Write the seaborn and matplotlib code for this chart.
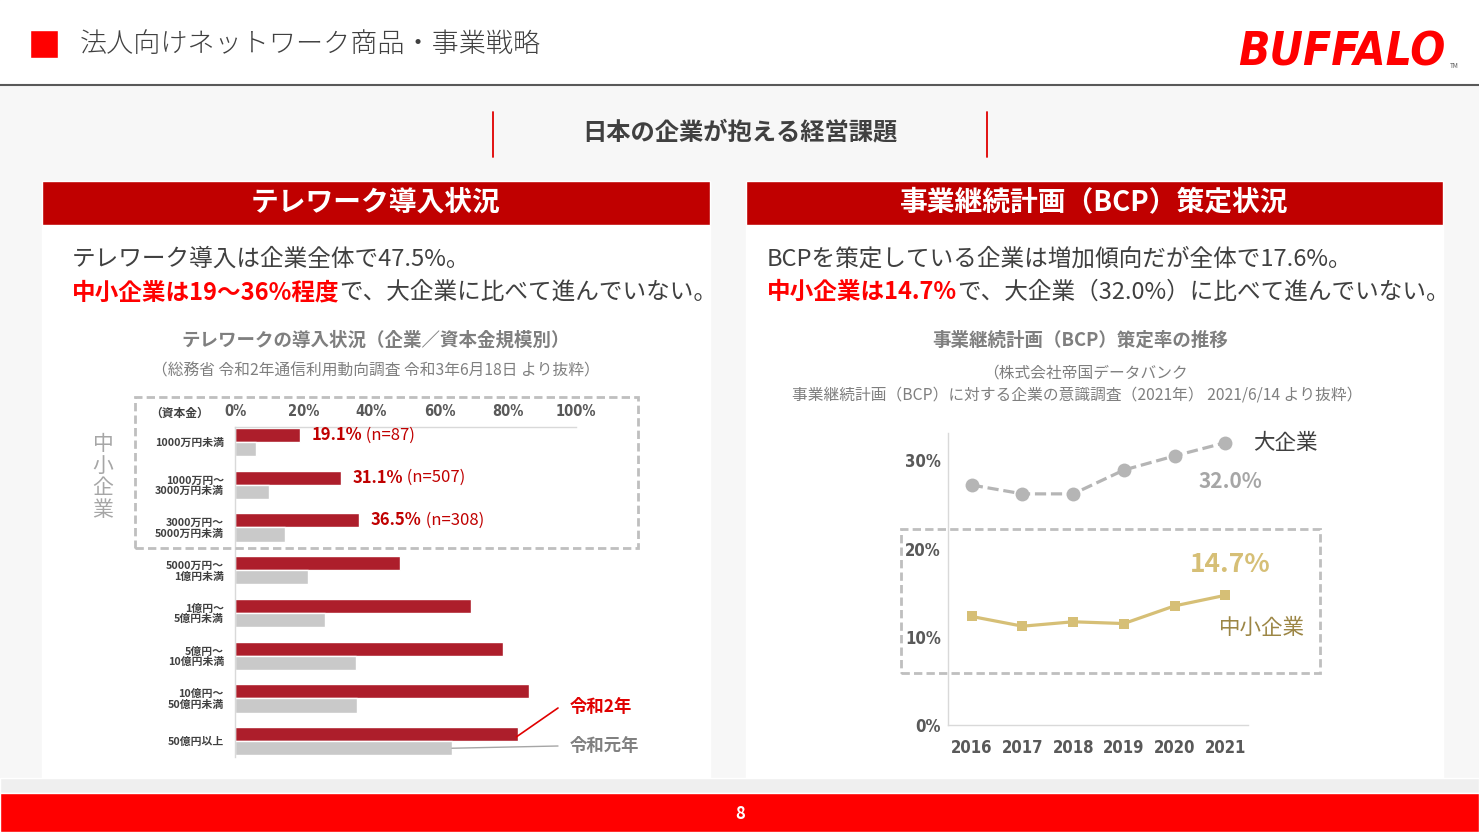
import numpy as np
import pandas as pd
import matplotlib
matplotlib.use("Agg")
import matplotlib.pyplot as plt
import seaborn as sns
from matplotlib.patches import Rectangle
from matplotlib.lines import Line2D
from matplotlib.transforms import IdentityTransform

sns.set_theme(style="white")
plt.rcParams['font.family'] = ['Noto Sans CJK JP', 'DejaVu Sans']
NARROW = dict(family='DejaVu Sans', stretch='condensed', weight='bold')

# telework data (percent), 令和2年 vs 令和元年
capital = ['1000万円未満', '1000万円～\n3000万円未満', '3000万円～\n5000万円未満',
           '5000万円～\n1億円未満', '1億円～\n5億円未満', '5億円～\n10億円未満',
           '10億円～\n50億円未満', '50億円以上']
reiwa2 = [19.1, 31.1, 36.5, 48.5, 69.3, 78.6, 86.1, 83.0]
reiwa1 = [6.3, 10.1, 14.6, 21.5, 26.5, 35.4, 35.8, 63.6]
n_counts = ['87', '507', '308']

# BCP data (percent)
years = [2016, 2017, 2018, 2019, 2020, 2021]
large = [27.2, 26.2, 26.2, 28.9, 30.5, 32.0]
sme = [12.3, 11.2, 11.7, 11.5, 13.5, 14.7]

W, H = 1479, 832
RED = '#ff0000'
DARK = '#404040'
BAR_RED = '#ad1e2b'
BAR_GRAY = '#c9c9c9'
GOLD = '#d6bf76'

fig = plt.figure(figsize=(W / 100, H / 100), dpi=100)
fig.patch.set_facecolor('#f7f7f7')


def fx(x):
    return x / W


def fy(y):
    return 1 - y / H


def rect(x0, y0, x1, y1, z=-10, **kw):
    r = Rectangle((fx(x0), fy(y1)), fx(x1) - fx(x0), fy(y0) - fy(y1),
                  transform=fig.transFigure, zorder=z, **kw)
    fig.add_artist(r)


def line(x0, y0, x1, y1, **kw):
    fig.add_artist(Line2D([fx(x0), fx(x1)], [fy(y0), fy(y1)], transform=fig.transFigure, **kw))


def text(x, y, s, **kw):
    return fig.text(fx(x), fy(y), s, **kw)


renderer = fig.canvas.get_renderer()


def rich(x, y, parts, size):
    # parts placed one after another; x, y in display pixels (bottom-left origin)
    for s, color, weight in parts:
        t = fig.text(x, y, s, transform=IdentityTransform(), fontsize=size,
                     color=color, weight=weight, va='center', ha='left')
        x += t.get_window_extent(renderer).width


# header
rect(0, 0, W, 85, facecolor='white')
rect(30, 30, 58, 58, z=2, facecolor=RED)
text(80, 44, '法人向けネットワーク商品・事業戦略', fontsize=19.5, color=DARK, weight='light',
     va='center')
text(1238, 66, 'BUFFALO', fontsize=33, color=RED, family='DejaVu Sans', stretch='condensed',
     weight='bold', style='italic', va='baseline')
text(1450, 68, 'TM', fontsize=4.5, color='#555555', va='baseline')
line(0, 85, W, 85, color='#595959', lw=1.5)

# section title
text(740, 132, '日本の企業が抱える経営課題', fontsize=17.5, color=DARK, weight='bold',
     ha='center', va='center')
line(493, 112, 493, 157, color='#e00000', lw=1.3)
line(987, 112, 987, 157, color='#e00000', lw=1.3)

# panels
for x0, x1, ttl in [(42, 710, 'テレワーク導入状況'), (746, 1443, '事業継続計画（BCP）策定状況')]:
    rect(x0, 181, x1, 778, facecolor='white')
    rect(x0, 181, x1, 225, z=1, facecolor='#c00000')
    text((x0 + x1) / 2, 203, ttl, fontsize=20, color='white', weight='bold',
         ha='center', va='center')

# footer
rect(0, 778, W, 793, facecolor='#efefef')
rect(0, 793, W, H, facecolor=RED)
text(740, 814, '8', fontsize=12, color='white', weight='bold', ha='center', va='center')

# body texts
text(72, 259, 'テレワーク導入は企業全体で47.5%。', fontsize=17, color=DARK, va='center')
rich(72, H - 292, [('中小企業は19～36%程度', RED, 'bold'),
                   ('で、大企業に比べて進んでいない。', DARK, 'normal')], 17)
text(767, 259, 'BCPを策定している企業は増加傾向だが全体で17.6%。', fontsize=17,
     color=DARK, va='center')
rich(767, H - 292, [('中小企業は14.7%', RED, 'bold'),
                    ('で、大企業（32.0%）に比べて進んでいない。', DARK, 'normal')], 17)

# chart titles
text(376, 340, 'テレワークの導入状況（企業／資本金規模別）', fontsize=13.3, color='#7f7f7f',
     weight='bold', ha='center', va='center')
text(376, 371, '（総務省 令和2年通信利用動向調査 令和3年6月18日 より抜粋）', fontsize=11.3,
     color='#7f7f7f', ha='center', va='center')
text(1080, 340, '事業継続計画（BCP）策定率の推移', fontsize=13.3, color='#7f7f7f',
     weight='bold', ha='center', va='center')
text(1085, 373, '（株式会社帝国データバンク', fontsize=11.3, color='#7f7f7f',
     ha='center', va='center')
text(1077, 395, '事業継続計画（BCP）に対する企業の意識調査（2021年） 2021/6/14 より抜粋）',
     fontsize=11.3, color='#7f7f7f', ha='center', va='center')

# ---- bar chart ----
df = pd.DataFrame({
    'capital': capital * 2,
    'year': ['令和2年'] * len(capital) + ['令和元年'] * len(capital),
    'value': reiwa2 + reiwa1,
})
ax = fig.add_axes([fx(235), fy(757), fx(576) - fx(235), fy(427) - fy(757)])
sns.barplot(data=df, y='capital', x='value', hue='year', orient='h', ax=ax,
            palette={'令和2年': BAR_RED, '令和元年': BAR_GRAY}, width=0.66,
            saturation=1, legend=False, errorbar=None)
ax.set_facecolor('none')
ax.set_xlim(0, 100)
ax.set_ylim(7.37, -0.35)
ax.set_xlabel('')
ax.set_ylabel('')
ax.xaxis.tick_top()
ax.set_xticks([0, 20, 40, 60, 80, 100])
ax.set_xticklabels([f'{v}%' for v in range(0, 101, 20)], fontsize=10.5, color='#595959',
                   **NARROW)
ax.tick_params(axis='x', length=0, pad=6)
ax.tick_params(axis='y', length=0, pad=8)
for lab in ax.get_yticklabels():
    lab.set_fontsize(7.8)
    lab.set_weight('bold')
    lab.set_color(DARK)
    lab.set_linespacing(1.05)
for s in ['right', 'bottom']:
    ax.spines[s].set_visible(False)
for s in ['top', 'left']:
    ax.spines[s].set_color('#d9d9d9')
    ax.spines[s].set_linewidth(1)
ax.grid(False)

for i, n in enumerate(n_counts):
    px, py = ax.transData.transform((reiwa2[i] + 3.4, i - 0.165))
    rich(px, py, [(f'{reiwa2[i]:.1f}%', '#c00000', 'bold'), (f' (n={n})', '#c00000', 'normal')], 12)

text(180, 413, '（資本金）', fontsize=8.5, color=DARK, weight='bold', ha='center', va='center')
text(103, 477, '中\n小\n企\n業', fontsize=15, color='#a6a6a6', ha='center', va='center',
     linespacing=1.0)
rect(135, 397, 638, 548, z=5, facecolor='none', edgecolor='#bfbfbf', lw=2,
     linestyle=(0, (3, 1.5)))

# callouts for the two years
px, py = ax.transData.transform((reiwa2[-1] - 0.5, 7 - 0.1))
line(px, H - py, 558, 708, color='#e00000', lw=1.2)
text(570, 707, '令和2年', fontsize=12.5, color='#e00000', weight='bold', va='center')
px, py = ax.transData.transform((reiwa1[-1], 7 + 0.165))
line(px, H - py, 558, 746, color='#a6a6a6', lw=1.0)
text(570, 746, '令和元年', fontsize=12.5, color='#808080', weight='bold', va='center')

# ---- line chart ----
ax2 = fig.add_axes([fx(948), fy(725), fx(1248) - fx(948), fy(433) - fy(725)])
sns.lineplot(x=years, y=large, ax=ax2, color='#b5b5b5', lw=2.3, linestyle=(0, (3.5, 1.5)),
             marker='o', markersize=10, markeredgewidth=0)
sns.lineplot(x=years, y=sme, ax=ax2, color=GOLD, lw=2.3, marker='s', markersize=7.5,
             markeredgewidth=0)
ax2.set_facecolor('none')
ax2.set_xlim(2016 - 0.47, 2021 + 0.45)
ax2.set_ylim(0, 33.1)
ax2.set_xticks(years)
ax2.set_xticklabels([str(y) for y in years], fontsize=12, color='#595959', **NARROW)
ax2.set_yticks([0, 10, 20, 30])
ax2.set_yticklabels(['0%', '10%', '20%', '30%'], fontsize=12, color='#595959', **NARROW)
ax2.tick_params(axis='x', length=0, pad=10)
ax2.tick_params(axis='y', length=0, pad=5)
for s in ['top', 'right']:
    ax2.spines[s].set_visible(False)
for s in ['left', 'bottom']:
    ax2.spines[s].set_color('#d9d9d9')
    ax2.spines[s].set_linewidth(1)
ax2.grid(False)

text(1253, 443, '大企業', fontsize=15.5, color=DARK, va='center')
text(1230, 481, f'{large[-1]:.1f}%', fontsize=15, color='#a6a6a6', weight='bold',
     ha='center', va='center')
text(1230, 564, f'{sme[-1]:.1f}%', fontsize=19, color=GOLD, weight='bold',
     ha='center', va='center')
text(1262, 628, '中小企業', fontsize=15.5, color='#9c8645', ha='center', va='center')
rect(901, 529, 1320, 673, z=5, facecolor='none', edgecolor='#bfbfbf', lw=2,
     linestyle=(0, (3, 1.5)))

fig.savefig('out.png', dpi=100)
